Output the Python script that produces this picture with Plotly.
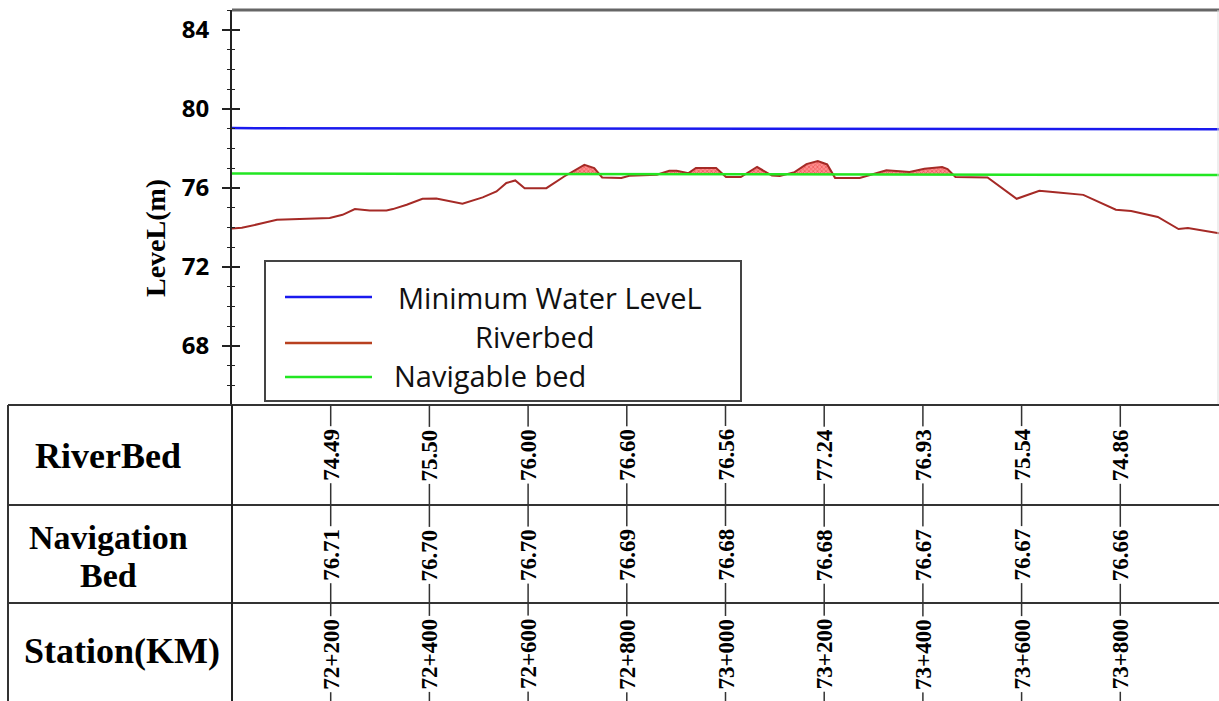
import numpy as np
import plotly.graph_objects as go

# ---------------- data ----------------
river_station = [72000, 72020, 72063, 72091, 72198, 72224, 72249, 72279, 72313, 72326,
                 72354, 72386, 72414, 72467, 72508, 72536, 72556, 72574, 72593, 72637,
                 72673, 72698, 72714, 72734, 72750, 72789, 72805, 72861, 72886, 72901,
                 72916, 72925, 72940, 72981, 73001, 73031, 73064, 73094, 73110, 73140,
                 73164, 73187, 73206, 73222, 73272, 73310, 73326, 73373, 73403, 73439,
                 73450, 73466, 73531, 73590, 73636, 73674, 73725, 73791, 73822, 73876,
                 73918, 73937, 74000]
river_level = [73.94, 73.97, 74.21, 74.38, 74.47, 74.63, 74.92, 74.85, 74.85, 74.92,
               75.14, 75.44, 75.46, 75.19, 75.51, 75.81, 76.24, 76.37, 75.98, 75.98,
               76.57, 76.91, 77.16, 77.00, 76.52, 76.49, 76.61, 76.66, 76.86, 76.86,
               76.80, 76.74, 77.00, 77.00, 76.54, 76.54, 77.05, 76.62, 76.60, 76.79,
               77.20, 77.35, 77.18, 76.50, 76.49, 76.79, 76.88, 76.80, 76.96, 77.05,
               76.95, 76.55, 76.52, 75.44, 75.85, 75.76, 75.64, 74.89, 74.82, 74.52,
               73.91, 73.96, 73.69]

nav_station = [72000, 72200, 72400, 72600, 72800, 73000, 73200, 73400, 73600, 73800, 74000]
nav_level = [76.72, 76.71, 76.70, 76.70, 76.69, 76.68, 76.68, 76.67, 76.67, 76.66, 76.65]

mwl_station = [72000, 74000]
mwl_level = [79.02, 78.96]

table_station = [72200, 72400, 72600, 72800, 73000, 73200, 73400, 73600, 73800]
table_station_labels = ["72+200", "72+400", "72+600", "72+800", "73+000",
                        "73+200", "73+400", "73+600", "73+800"]
table_riverbed = ["74.49", "75.50", "76.00", "76.60", "76.56", "77.24", "76.93", "75.54", "74.86"]
table_navbed = ["76.71", "76.70", "76.70", "76.69", "76.68", "76.68", "76.67", "76.67", "76.66"]

row_labels = ["RiverBed", "Navigation", "Bed", "Station(KM)"]
legend_names = ["Minimum Water LeveL", "Riverbed", "Navigable bed"]
y_title = "LeveL(m)"

# ---------------- styling / geometry ----------------
W, H = 1219, 701
L, T = 232, 10
X_RANGE = [72000, 74000]
Y_RANGE = [65, 85]

BLUE = "#1a1aee"
RED = "#a52a26"
GREEN = "#22e622"


def px(x):
    return (x - L) / (W - L)


def py(y):
    return (H - y) / (H - T)


# fill region where riverbed is above navigable bed
xs = np.linspace(X_RANGE[0], X_RANGE[1], 4001)
rb = np.interp(xs, river_station, river_level)
nv = np.interp(xs, nav_station, nav_level)
upper = np.maximum(rb, nv)

fig = go.Figure()
fig.add_trace(go.Scatter(x=xs, y=nv, mode="lines", line=dict(width=0),
                         hoverinfo="skip", showlegend=False))
fig.add_trace(go.Scatter(x=xs, y=upper, mode="lines", line=dict(width=0),
                         fill="tonexty", fillcolor="rgba(255,100,100,0.85)",
                         fillpattern=dict(shape="x", fgcolor="#dd2a2a", bgcolor="rgba(255,130,130,0.9)",
                                          size=3, solidity=0.45),
                         hoverinfo="skip", showlegend=False))
fig.add_trace(go.Scatter(x=river_station, y=river_level, mode="lines",
                         line=dict(color=RED, width=2), name=legend_names[1], showlegend=False))
fig.add_trace(go.Scatter(x=nav_station, y=nav_level, mode="lines",
                         line=dict(color=GREEN, width=2.5), name=legend_names[2], showlegend=False))
fig.add_trace(go.Scatter(x=mwl_station, y=mwl_level, mode="lines", yaxis="y2",
                         line=dict(color=BLUE, width=2.5), name=legend_names[0], showlegend=False))

shapes = []
ann = []

# plot frame
shapes.append(dict(type="line", xref="paper", yref="paper", x0=0, x1=1, y0=1, y1=1,
                   line=dict(color="#666", width=3)))
shapes.append(dict(type="line", xref="paper", yref="paper", x0=px(1218), x1=px(1218), y0=py(405), y1=1,
                   line=dict(color="#dddddd", width=1)))
# table grid
for yy in [405, 505, 603]:
    shapes.append(dict(type="line", xref="paper", yref="paper", x0=px(8), x1=1, y0=py(yy), y1=py(yy),
                       line=dict(color="#333", width=2)))
shapes.append(dict(type="line", xref="paper", yref="paper", x0=px(8), x1=px(8), y0=0, y1=py(405),
                   line=dict(color="#333", width=2)))
shapes.append(dict(type="line", xref="paper", yref="paper", x0=0, x1=0, y0=0, y1=py(405),
                   line=dict(color="#222", width=2)))
# station tick lines through the table
for s in table_station:
    xp = (s - X_RANGE[0]) / (X_RANGE[1] - X_RANGE[0])
    shapes.append(dict(type="line", xref="paper", yref="paper", x0=xp, x1=xp, y0=0, y1=py(405),
                       line=dict(color="#333", width=1.5)))

tbl_font = dict(family="Liberation Serif", size=23, color="black", weight="bold")
for s, rbv, nbv, lab in zip(table_station, table_riverbed, table_navbed, table_station_labels):
    for txt, yy in [(rbv, 455), (nbv, 555), (lab, 654)]:
        ann.append(dict(x=s, xref="x", y=py(yy), yref="paper", text=txt, showarrow=False,
                        textangle=-90, font=tbl_font, bgcolor="white", borderpad=2,
                        xanchor="center", yanchor="middle"))

for txt, xx, yy, fs in zip(row_labels, [108, 108, 108, 122], [456, 537, 575, 651], [36, 34, 34, 36]):
    ann.append(dict(x=px(xx), xref="paper", y=py(yy), yref="paper", text=txt, showarrow=False,
                    font=dict(family="Liberation Serif", size=fs, color="black", weight="bold"),
                    xanchor="center", yanchor="middle"))

# y-axis title (placed as in the reference, below the axis centre)
ann.append(dict(x=px(155), xref="paper", y=py(238), yref="paper", text=y_title, showarrow=False,
                textangle=-90, font=dict(family="Liberation Serif", size=28, color="black", weight="bold"),
                xanchor="center", yanchor="middle"))

# manual legend
shapes.append(dict(type="rect", xref="paper", yref="paper", x0=px(265), x1=px(741), y0=py(401), y1=py(261),
                   line=dict(color="#444", width=2), fillcolor="white", layer="above"))
leg_font = dict(family="Open Sans", size=29, color="#111")
for col, ly, name, tx, ty in zip([BLUE, "#b8401f", GREEN], [297, 343, 377], legend_names,
                                 [397, 474, 393], [297, 336, 375]):
    shapes.append(dict(type="line", xref="paper", yref="paper", x0=px(285), x1=px(372), y0=py(ly), y1=py(ly),
                       line=dict(color=col, width=2.5), layer="above"))
    ann.append(dict(x=px(tx), xref="paper", y=py(ty), yref="paper", text=name, showarrow=False,
                    font=leg_font, xanchor="left", yanchor="middle", borderpad=0))

fig.update_layout(
    width=W, height=H,
    margin=dict(l=L, r=0, t=T, b=0),
    paper_bgcolor="white", plot_bgcolor="white",
    showlegend=False,
    xaxis=dict(range=X_RANGE, showticklabels=False, ticks="", showgrid=False, zeroline=False,
               showline=False),
    yaxis=dict(domain=[py(405), 1], range=Y_RANGE, tickvals=[68, 72, 76, 80, 84],
               ticks="outside", ticklen=8, tickwidth=1.5, tickcolor="#222",
               minor=dict(dtick=1, ticks="outside", ticklen=3, tickwidth=1.2, tickcolor="#222"),
               showline=True, linecolor="#222", linewidth=2, showgrid=False, zeroline=False,
               ticklabelstandoff=8,
               tickfont=dict(family="Open Sans", size=24, color="black", weight="bold")),
    yaxis2=dict(overlaying="y", range=Y_RANGE, tickvals=[68, 72, 76, 80, 84],
                ticks="inside", ticklen=8, tickwidth=1.5, tickcolor="#222",
                minor=dict(dtick=1, ticks="inside", ticklen=3, tickwidth=1.2, tickcolor="#222"),
                showticklabels=False, showline=False, showgrid=False, zeroline=False),
    shapes=shapes,
    annotations=ann,
)

fig.write_html("out.html", config={"displayModeBar": False},
               post_script="document.body.style.margin='0';document.body.style.overflow='hidden';")
